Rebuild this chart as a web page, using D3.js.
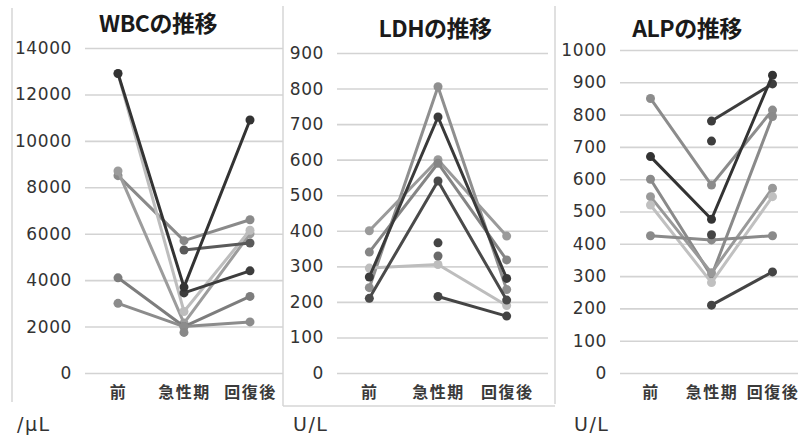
<!DOCTYPE html>
<html>
<head>
<meta charset="utf-8">
<script src="https://cdn.jsdelivr.net/npm/d3@7"></script>
<style>
  html, body { margin: 0; padding: 0; background: #fff; }
  svg { display: block; }
  .tick text { font-family: "DejaVu Sans", sans-serif; font-size: 17px; fill: #333; letter-spacing: 0.6px; }
  .grid .tick line { stroke: #d3d3d3; stroke-width: 1.6; }
  .cat .tick text { font-family: "Noto Sans CJK JP", sans-serif; font-size: 16px; font-weight: 700; fill: #3a3a3a; letter-spacing: 1.5px; }
  .title { font-family: "Noto Sans CJK JP", sans-serif; font-size: 23px; font-weight: 700; fill: #1a1a1a; letter-spacing: -0.5px; }
  .unit { font-family: "DejaVu Sans", sans-serif; font-size: 19px; fill: #333; letter-spacing: 1.5px; }
</style>
</head>
<body>
<svg id="chart" width="798" height="436"></svg>
<script>
// Time points shared by all three panels
const categories = ["前", "急性期", "回復後"];

// WBC (/μL)
const wbcTicks = [0, 2000, 4000, 6000, 8000, 10000, 12000, 14000];
const wbcSeries = [
  [8500, 5700, 6600],
  [8700, 2150, 6000],
  [4100, 2000, 3300],
  [3000, 2000, 2200],
  [null, 1750, null],
  [12900, 2650, 6150],
  [null, 5300, 5600],
  [null, 3450, 4400],
  [12900, 3700, 10900]
];

// LDH (U/L)
const ldhTicks = [0, 100, 200, 300, 400, 500, 600, 700, 800, 900];
const ldhSeries = [
  [240, 805, 235],
  [400, 600, 385],
  [340, 590, 318],
  [295, 305, 190],
  [null, 329, null],
  [210, 540, 205],
  [null, 366, null],
  [null, 215, 160],
  [270, 720, 266]
];

// ALP (U/L)
const alpTicks = [0, 100, 200, 300, 400, 500, 600, 700, 800, 900, 1000];
const alpSeries = [
  [850, 582, 814],
  [600, 300, 794],
  [546, 310, 572],
  [520, 280, 546],
  [425, 412, 425],
  [null, 718, null],
  [null, 428, null],
  [null, 210, 313],
  [null, 780, 895],
  [670, 476, 922]
];

// Grey shade of each series, in drawing order
const wbcShades = ["#8a8a8a", "#9c9c9c", "#7d7d7d", "#8c8c8c", "#888888", "#bdbdbd", "#5a5a5a", "#3d3d3d", "#333333"];
const ldhShades = ["#8f8f8f", "#9a9a9a", "#858585", "#bdbdbd", "#6a6a6a", "#4a4a4a", "#444444", "#444444", "#3a3a3a"];
const alpShades = ["#8c8c8c", "#8a8a8a", "#999999", "#c0c0c0", "#8a8a8a", "#3d3d3d", "#444444", "#444444", "#3d3d3d", "#333333"];

const svg = d3.select("#chart");

// Panel frames
const frame = svg.append("g").attr("stroke", "#d6d6d6").attr("stroke-width", 1.5).attr("fill", "none");
frame.append("line").attr("x1", 12).attr("x2", 12).attr("y1", 8).attr("y2", 402);
frame.append("line").attr("x1", 283).attr("x2", 283).attr("y1", 6).attr("y2", 406);
frame.append("line").attr("x1", 283).attr("x2", 555).attr("y1", 406).attr("y2", 406);
frame.append("line").attr("x1", 555).attr("x2", 555).attr("y1", 6).attr("y2", 404);

const panels = [
  { title: "WBCの推移", unit: "/μL", ticks: wbcTicks, series: wbcSeries, shades: wbcShades,
    gridL: 85, gridR: 283, xL: 85, xR: 283, yTop: 48, titleX: 158, titleY: 22, unitX: 17 },
  { title: "LDHの推移", unit: "U/L", ticks: ldhTicks, series: ldhSeries, shades: ldhShades,
    gridL: 337, gridR: 548, xL: 335, xR: 541, yTop: 53, titleX: 435, titleY: 27, unitX: 293 },
  { title: "ALPの推移", unit: "U/L", ticks: alpTicks, series: alpSeries, shades: alpShades,
    gridL: 620, gridR: 798, xL: 620, xR: 803, yTop: 50, titleX: 687, titleY: 27, unitX: 574 }
];

const yBase = 373;

panels.forEach(p => {
  const g = svg.append("g");
  const x = d3.scalePoint().domain(categories).range([p.xL, p.xR]).padding(0.5);
  const y = d3.scaleLinear().domain([0, d3.max(p.ticks)]).range([yBase, p.yTop]);

  // Value axis with gridlines
  const ya = g.append("g").attr("class", "grid")
    .attr("transform", `translate(${p.gridL},0)`)
    .call(d3.axisLeft(y).tickValues(p.ticks).tickFormat(d3.format("d"))
      .tickSize(-(p.gridR - p.gridL)).tickPadding(13));
  ya.select(".domain").remove();

  // Category axis
  const xa = g.append("g").attr("class", "cat")
    .attr("transform", `translate(0,${yBase})`)
    .call(d3.axisBottom(x).tickSize(0).tickPadding(14));
  xa.select(".domain").remove();

  // Series lines and markers
  const line = d3.line()
    .defined(d => d.v != null)
    .x(d => x(d.c))
    .y(d => y(d.v));

  p.series.forEach((vals, i) => {
    const pts = vals.map((v, j) => ({ c: categories[j], v }));
    const col = p.shades[i];
    g.append("path").datum(pts)
      .attr("d", line)
      .attr("fill", "none")
      .attr("stroke", col)
      .attr("stroke-width", 3)
      .attr("stroke-linejoin", "round");
    g.selectAll(null).data(pts.filter(d => d.v != null)).enter()
      .append("circle")
      .attr("cx", d => x(d.c))
      .attr("cy", d => y(d.v))
      .attr("r", 4.5)
      .attr("fill", col);
  });

  g.append("text").attr("class", "title")
    .attr("x", p.titleX).attr("y", p.titleY)
    .attr("text-anchor", "middle").attr("dominant-baseline", "central")
    .text(p.title);

  g.append("text").attr("class", "unit")
    .attr("x", p.unitX).attr("y", 431)
    .text(p.unit);
});
</script>
</body>
</html>
